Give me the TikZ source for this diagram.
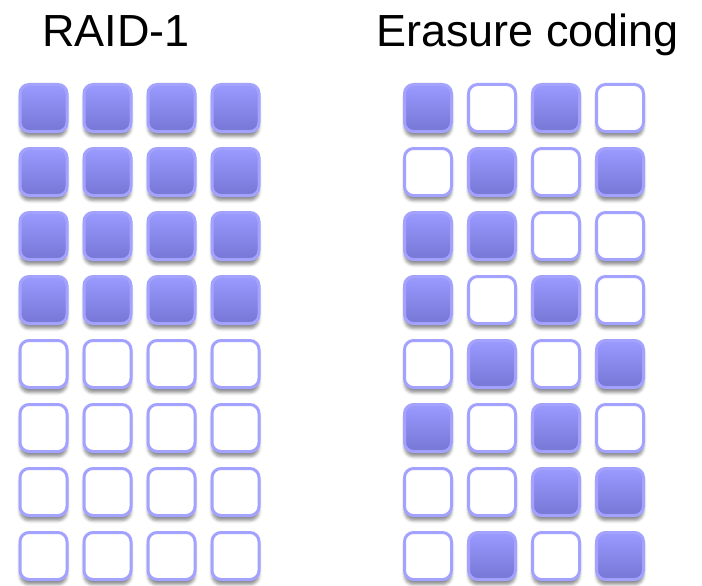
\documentclass[tikz,border=0pt]{standalone}
\usepackage{fontspec}
\setmainfont{Liberation Sans}
\usetikzlibrary{shadows.blur}

\definecolor{diskedge}{HTML}{A3A3FF}
\definecolor{disktop}{HTML}{9A9AFF}
\definecolor{diskbot}{HTML}{7676D6}

\tikzset{
	disk/.style={draw=diskedge, line width=3pt, rounded corners=9pt,
		minimum size=47pt, inner sep=0pt,
		blur shadow={shadow xshift=0pt, shadow yshift=-5pt, shadow blur radius=3pt, shadow opacity=45}},
	used/.style={disk, top color=disktop, bottom color=diskbot},
	free/.style={disk, fill=white},
	title/.style={anchor=base, inner sep=0pt, font=\fontsize{45}{54}\selectfont}
}

\begin{document}
\begin{tikzpicture}[x=1pt,y=-1pt]
	\useasboundingbox (0,0) rectangle (702,586);
	\node[title] (raid) at (116,46.5) {RAID-1};
	\node[title] (ec) at (527.5,46.5) {Erasure coding};

	% mirrored copies: top half full, bottom half empty
	\foreach \r in {1,...,8}
		\foreach \c in {1,...,4}{
			\ifnum\r<5 \def\kind{used}\else\def\kind{free}\fi
			\node[\kind] (raid-\r-\c) at ({43.5+64*(\c-1)},{108+64*(\r-1)}) {};
		}

	% coded fragments, one row per stripe
	\foreach \pat [count=\r] in {{1,0,1,0},{0,1,0,1},{1,1,0,0},{1,0,1,0},{0,1,0,1},{1,0,1,0},{0,0,1,1},{0,1,0,1}}
		\foreach \v [count=\c] in \pat{
			\ifnum\v=1 \def\kind{used}\else\def\kind{free}\fi
			\node[\kind] (ec-\r-\c) at ({428+64*(\c-1)},{108+64*(\r-1)}) {};
		}
\end{tikzpicture}
\end{document}
